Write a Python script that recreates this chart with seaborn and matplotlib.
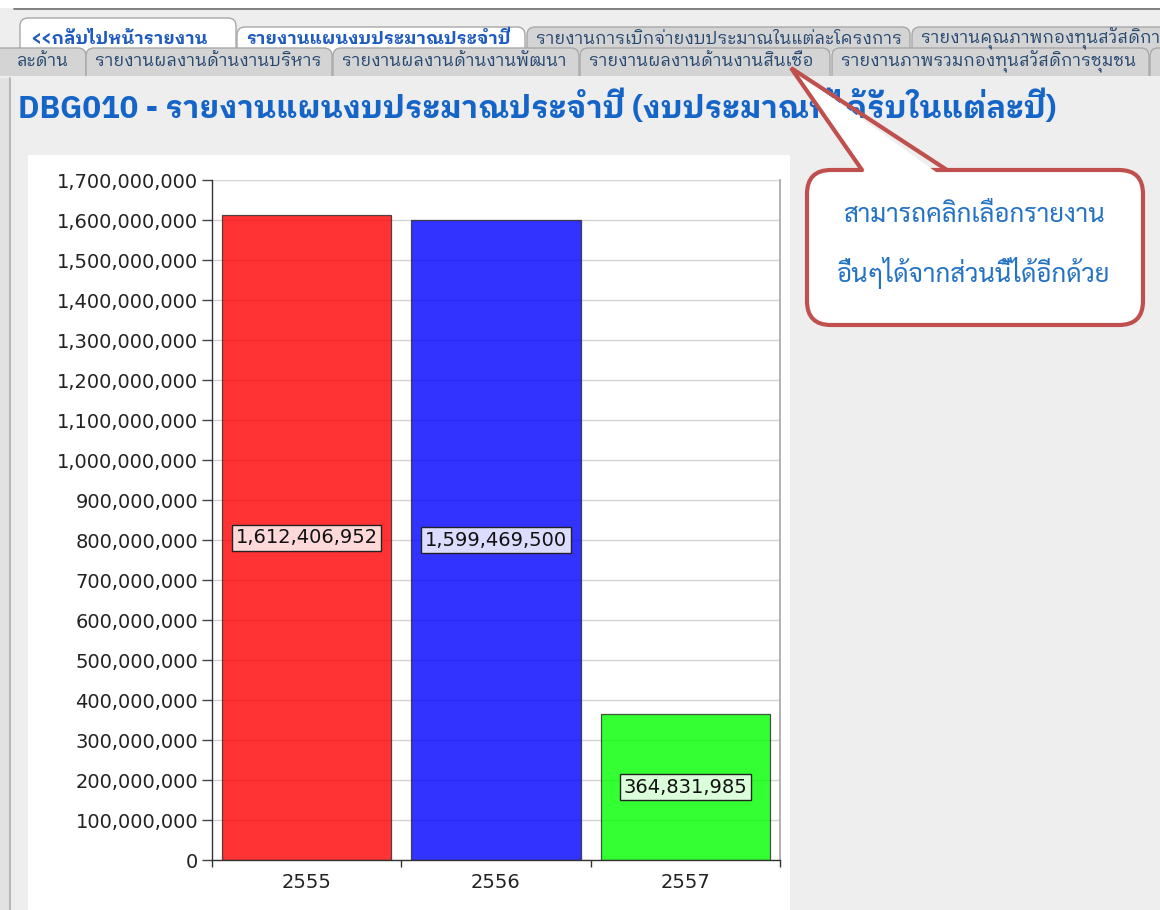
import matplotlib
matplotlib.use("Agg")
import matplotlib.pyplot as plt
import seaborn as sns
import numpy as np
import pandas as pd
from matplotlib.patches import Rectangle, FancyBboxPatch, Polygon, PathPatch
from matplotlib.path import Path
from matplotlib.ticker import FuncFormatter, FixedLocator

# ---------------- data ----------------
years = ["2555", "2556", "2557"]
budgets = [1612406952, 1599469500, 364831985]
bar_colors = ["#FF0000", "#0000FF", "#00FF00"]
label_bg = ["#FFD9D9", "#DCDCFF", "#DAFFDA"]
y_ticks = list(range(0, 1700000001, 100000000))

title_text = "DBG010 - รายงานแผนงบประมาณประจำปี (งบประมาณที่ได้รับในแต่ละปี)"
tabs_row1 = ["<<กลับไปหน้ารายงาน", "รายงานแผนงบประมาณประจำปี",
             "รายงานการเบิกจ่ายงบประมาณในแต่ละโครงการ", "รายงานคุณภาพกองทุนสวัสดิการ"]
tabs_row2 = ["ละด้าน", "รายงานผลงานด้านงานบริหาร", "รายงานผลงานด้านงานพัฒนา",
             "รายงานผลงานด้านงานสินเชื่อ", "รายงานภาพรวมกองทุนสวัสดิการชุมชน", ""]
callout_lines = ["สามารถคลิกเลือกรายงาน", "อื่นๆได้จากส่วนนี้ได้อีกด้วย"]

# ---------------- fonts ----------------
sns.set_theme(style="white")
plt.rcParams['font.family'] = ["DejaVu Sans"]
TAB_FONT = ["IBM Plex Sans Thai Looped", "Loma", "DejaVu Sans"]
BOLD_FONT = ["IBM Plex Sans Thai Looped", "Loma", "DejaVu Sans"]
CALL_FONT = ["Sarabun", "Loma", "DejaVu Sans"]

W, H = 1160, 910
fig = plt.figure(figsize=(W / 100, H / 100), dpi=100)
fig.patch.set_facecolor("#EEEEEE")
renderer = fig.canvas.get_renderer()


def fit(t, target):
    w = t.get_window_extent(renderer=renderer).width
    t.set_fontsize(t.get_fontsize() * target / w)
    return t.get_fontsize()


bg = fig.add_axes([0, 0, 1, 1], zorder=0)
bg.set_xlim(0, W)
bg.set_ylim(H, 0)
bg.axis("off")

# top white strip and border
bg.add_patch(Rectangle((0, 0), W, 8, fc="white", ec="none"))
bg.plot([14, W], [8.5, 8.5], color="#6E6E6E", lw=1.2)
# left border
bg.add_patch(Rectangle((0, 78), 9, H - 78, fc="#E2E2E2", ec="none"))
bg.plot([10, 10], [78, H], color="#B8B8B8", lw=1.5)


def tab(x0, x1, y0, y1, fc, ec, r=8):
    verts = [(x0, y1), (x0, y0 + r), (x0, y0), (x0 + r, y0),
             (x1 - r, y0), (x1, y0), (x1, y0 + r), (x1, y1)]
    codes = [Path.MOVETO, Path.LINETO, Path.CURVE3, Path.CURVE3,
             Path.LINETO, Path.CURVE3, Path.CURVE3, Path.LINETO]
    bg.add_patch(PathPatch(Path(verts, codes), fc=fc, ec=ec, lw=1.0))


row1_x = [(20, 236), (237, 525), (527, 910), (912, 1175)]
row1_top = [18, 27, 27, 27]
row1_text = []
for i, ((a, b), t) in enumerate(zip(row1_x, tabs_row1)):
    white = i < 2
    tab(a, b, row1_top[i], 52, "white" if white else "#D4D4D4", "#A8A8A8")
    tx = 30 if i == 0 else a + 9
    row1_text.append(bg.text(tx, 38.5, t, ha="left", va="center", fontsize=12,
                             color="#1F5BC0" if white else "#24466F",
                             fontweight="bold" if white else "normal",
                             family=BOLD_FONT if white else TAB_FONT,
                             clip_on=True))
bold_size = fit(row1_text[1], 265)
row1_text[0].set_fontsize(bold_size)
gray_size = fit(row1_text[2], 363)
row1_text[3].set_fontsize(gray_size)

row2_x = [(-20, 86), (86, 332), (333, 579), (580, 830), (832, 1149), (1150, 1190)]
for i, ((a, b), t) in enumerate(zip(row2_x, tabs_row2)):
    tab(a, b, 48, 76, "#D4D4D4", "#A8A8A8")
    if t:
        tx = 16 if i == 0 else a + 9
        bg.text(tx, 61.5, t, ha="left", va="center", fontsize=gray_size,
                color="#24466F", family=TAB_FONT)

# title
title = bg.text(18, 107, title_text, ha="left", va="center", fontsize=20,
                fontweight="bold", color="#1565C8", family=BOLD_FONT, zorder=2)
fit(title, 1037)

# white chart panel
bg.add_patch(Rectangle((28, 155), 762, H - 155, fc="white", ec="none"))

# callout
bg.add_patch(FancyBboxPatch((807, 170), 336, 155,
                            boxstyle="round,pad=0,rounding_size=24",
                            fc="white", ec="#C0504D", lw=3, zorder=5))
bg.add_patch(Polygon([(867, 177), (791, 68), (943, 177)], closed=True,
                     fc="white", ec="none", zorder=6))
bg.plot([862, 791, 947], [170, 68, 170], color="#C0504D", lw=3,
        solid_joinstyle="miter", zorder=7)
call_texts = []
for k, line in enumerate(callout_lines):
    call_texts.append(bg.text(974, 215 + 58 * k, line, ha="center", va="center",
                              fontsize=18, color="#2472C4", family=CALL_FONT,
                              fontweight="normal", zorder=8))
cs = fit(call_texts[0], 262)
call_texts[1].set_fontsize(cs)

# ---------------- chart ----------------
ax = fig.add_axes([212 / W, 1 - 860 / H, 568 / W, 680 / H], zorder=3)
df = pd.DataFrame({"year": years, "budget": budgets})
sns.barplot(data=df, x="year", y="budget", hue="year", palette=bar_colors,
            legend=False, width=0.893, alpha=0.8, saturation=1,
            edgecolor="#2A2A2A", linewidth=0.9, ax=ax, zorder=2)
ax.set_facecolor("white")
ax.set_xlim(-0.5, 2.5)
ax.set_ylim(0, 1700000000)
ax.set_yticks(y_ticks)
ax.yaxis.set_major_formatter(FuncFormatter(lambda v, p: f"{int(v):,}"))
ax.set_axisbelow(True)
ax.grid(axis="y", color="#D4D4D4", lw=1)
ax.grid(axis="x", visible=False)
ax.set_xlabel("")
ax.set_ylabel("")
ax.xaxis.set_minor_locator(FixedLocator([-0.5, 0.5, 1.5, 2.5]))
ax.tick_params(axis="x", which="major", length=0, pad=9, labelsize=14, labelcolor="#222222")
ax.tick_params(axis="x", which="minor", length=5, color="#333333", width=1, bottom=True)
ax.tick_params(axis="y", length=7, color="#444444", width=1, left=True, pad=3,
               labelsize=14, labelcolor="#222222")
for s in ["left", "bottom"]:
    ax.spines[s].set_color("#333333")
    ax.spines[s].set_linewidth(1)
ax.spines["right"].set_color("#A8A8A8")
ax.spines["top"].set_visible(False)

for i, v in enumerate(budgets):
    ax.text(i, v / 2, f"{v:,}", ha="center", va="center", fontsize=14,
            color="#111111", zorder=5,
            bbox=dict(boxstyle="square,pad=0.18", fc=label_bg[i], ec="#222222", lw=1))

fig.savefig("out.png", dpi=100, facecolor=fig.get_facecolor())
